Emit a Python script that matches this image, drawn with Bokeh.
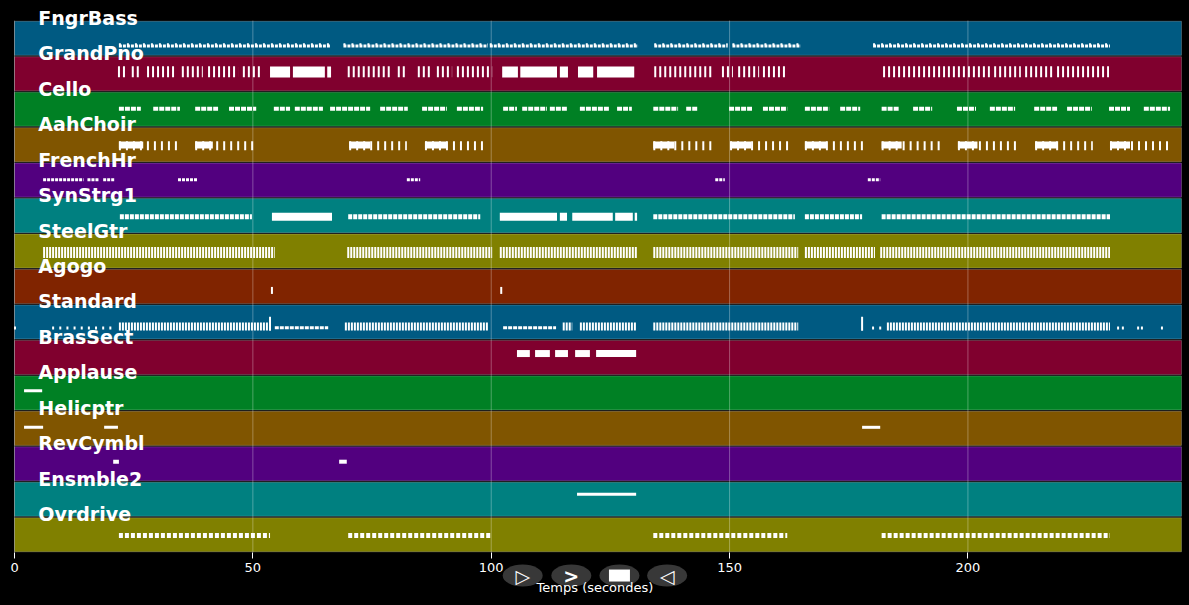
from bokeh.plotting import figure
from bokeh.models import ColumnDataSource, FixedTicker
from bokeh.core.properties import value
from bokeh.embed import file_html
from bokeh.resources import INLINE

# ---------------- data ----------------
tracks = ["FngrBass", "GrandPno", "Cello", "AahChoir", "FrenchHr", "SynStrg1",
          "SteelGtr", "Agogo", "Standard", "BrasSect", "Applause", "Helicptr",
          "RevCymbl", "Ensmble2", "Ovrdrive"]
x_ticks = [0, 50, 100, 150, 200]
x_label = "Temps (secondes)"
buttons = ["▷", ">", "", "◁"]

# note phrases, (start, end) in seconds
fngrbass = [(21.9, 66.3), (69.0, 99.3), (99.7, 130.8), (134.2, 149.6), (150.6, 164.9), (180.1, 229.8)]
grandpno_chords = [(21.7, 23.6), (24.6, 26.3), (27.8, 34.1), (35.1, 39.5), (40.6, 46.9), (47.9, 51.5),
                   (69.9, 78.8), (80.4, 81.9), (84.6, 87.2), (88.6, 91.8), (92.8, 100.2),
                   (134.2, 146.3), (148.4, 150.7), (151.8, 156.2), (157.0, 162.1),
                   (182.2, 195.2), (195.8, 204.6), (205.5, 211.1), (212.0, 217.8), (218.7, 229.6)]
grandpno_held = [(53.6, 57.8), (58.4, 65.1), (65.6, 66.4), (102.3, 105.6), (106.1, 113.8),
                 (114.4, 116.1), (118.2, 121.4), (122.2, 130.0)]
cello = [(21.9, 26.5), (29.1, 34.7), (37.9, 42.7), (45.0, 50.7), (54.4, 57.8), (58.8, 64.7),
         (66.2, 74.6), (76.7, 82.5), (85.5, 90.7), (92.8, 98.3), (102.5, 105.4), (106.5, 111.7),
         (112.3, 115.9), (118.6, 124.9), (126.4, 129.5), (134.0, 139.2), (140.9, 143.4),
         (149.9, 154.7), (157.0, 162.1), (165.8, 170.9), (173.2, 177.4), (181.9, 185.5),
         (188.5, 192.5), (197.7, 201.7), (204.6, 209.9), (213.9, 218.7), (220.8, 226.0),
         (229.6, 234.0), (236.9, 242.4)]
aahchoir = [(21.9, 34.3), (37.9, 50.5), (70.2, 82.3), (86.1, 98.5), (134.0, 146.5), (150.1, 162.7),
            (165.8, 178.4), (181.9, 194.6), (197.9, 210.5), (214.1, 226.2), (229.8, 242.4)]
aahchoir_held = [(21.9, 27.0), (37.9, 41.6), (70.2, 74.6), (86.1, 90.7), (134.0, 138.4), (150.1, 154.5),
                 (165.8, 170.4), (181.9, 186.1), (197.9, 202.0), (214.1, 218.7), (229.8, 234.0)]
frenchhr = [(6.0, 14.5), (15.3, 17.8), (18.6, 21.1), (34.3, 38.3), (82.3, 85.1), (147.0, 149.0), (179.0, 181.6)]
synstrg1 = [(22.1, 49.8), (70.0, 97.7), (134.0, 163.7), (165.8, 177.8), (181.9, 229.8)]
synstrg1_held = [(54.0, 66.6), (101.8, 113.8), (114.4, 115.9), (117.0, 125.5), (126.0, 129.7), (130.1, 130.6)]
steelgtr = [(6.0, 54.6), (69.8, 100.2), (101.8, 130.6), (134.0, 164.4), (165.8, 180.5), (181.6, 229.8)]
agogo_hits = [54.0, 102.1]
standard = [(21.9, 53.2), (69.3, 99.3), (115.0, 117.0), (118.6, 130.4), (134.0, 164.4), (183.0, 229.8)]
standard_light = [(54.6, 65.8), (102.5, 113.6)]
standard_hits = [53.6, 177.8]
standard_dots = [0.1, 8.1, 9.6, 11.1, 12.6, 14.1, 15.6, 17.1, 18.6, 20.1,
                 180.1, 181.6, 231.5, 232.5, 235.7, 236.5, 240.7]
brassect = [(105.4, 108.1), (109.2, 112.3), (113.4, 116.1), (117.6, 120.7), (122.0, 130.4)]
applause = [(2.0, 5.8)]
helicptr = [(2.0, 6.0), (18.8, 21.7), (177.8, 181.6)]
revcymbl = [(20.7, 21.9), (68.1, 69.7)]
ensmble2 = [(118.0, 130.4)]
ovrdrive = [(21.9, 53.6), (70.0, 100.2), (134.0, 162.1), (181.9, 229.8)]

# ---------------- style ----------------
palette = ["#005a82", "#80002e", "#008024", "#805500", "#52007f", "#008080", "#808000", "#802400"]
XMAX = 244.8                 # right end of the track bands
N = len(tracks)
X_RANGE = (-2.94, XMAX + 1.68)  # frame covers the whole canvas
Y_RANGE = (-1.495, N + 0.566)

p = figure(width=1189, height=605, output_backend="svg", toolbar_location=None,
           x_range=X_RANGE, y_range=Y_RANGE,
           min_border_left=0, min_border_right=0, min_border_top=0, min_border_bottom=0)
p.background_fill_color = "black"
p.border_fill_color = "black"
p.outline_line_color = None
p.yaxis.visible = False
p.ygrid.grid_line_color = None
p.xgrid.grid_line_color = None

# bands
bsrc = ColumnDataSource(dict(
    bottom=[N - 1 - i + 0.02 for i in range(N)],
    top=[N - i - 0.02 for i in range(N)],
    color=[palette[i % len(palette)] for i in range(N)],
))
p.quad(left=0, right=XMAX, bottom="bottom", top="top", fill_color="color",
       line_color="white", line_alpha=0.22, line_width=1, source=bsrc)


def seg(track, phrases, rel, width, dash="solid"):
    i = tracks.index(track)
    y = N - 1 - i + rel
    src = ColumnDataSource(dict(x0=[a for a, b in phrases], x1=[b for a, b in phrases],
                                y=[y] * len(phrases)))
    p.segment(x0="x0", y0="y", x1="x1", y1="y", source=src, line_color="white",
              line_width=width, line_dash=dash, line_cap="butt")


def marks(track, times, rel, w, h):
    i = tracks.index(track)
    y = N - 1 - i + rel
    p.rect(x=times, y=[y] * len(times), width=w, height=h, width_units="screen",
           height_units="screen", fill_color="white", line_color=None)


seg("FngrBass", fngrbass, 0.28, 3, "3 1")
seg("FngrBass", fngrbass, 0.33, 2, "2 6")
seg("GrandPno", grandpno_chords, 0.56, 11, "2 3")
seg("GrandPno", grandpno_held, 0.55, 11)
seg("Cello", cello, 0.51, 4, "5 1")
seg("AahChoir", aahchoir, 0.47, 9, "2 5")
seg("AahChoir", aahchoir_held, 0.49, 7)
seg("FrenchHr", frenchhr, 0.51, 3, "3 1")
seg("SynStrg1", synstrg1, 0.47, 5, "4 1")
seg("SynStrg1", synstrg1_held, 0.47, 8)
seg("SteelGtr", steelgtr, 0.46, 11, "2 1")
marks("Agogo", agogo_hits, 0.39, 2, 7)
seg("Standard", standard, 0.37, 8, "2 1")
seg("Standard", standard_light, 0.34, 3, "4 1")
marks("Standard", standard_hits, 0.45, 2, 14)
marks("Standard", standard_dots, 0.33, 2, 3)
seg("BrasSect", brassect, 0.61, 7)
seg("Applause", applause, 0.56, 3)
seg("Helicptr", helicptr, 0.53, 3)
seg("RevCymbl", revcymbl, 0.56, 4)
seg("Ensmble2", ensmble2, 0.64, 3)
seg("Ovrdrive", ovrdrive, 0.48, 5, "4 2")

# vertical grid lines at the ticks, over the bands only
p.segment(x0=x_ticks, y0=[0] * len(x_ticks), x1=x_ticks, y1=[N] * len(x_ticks),
          line_color="white", line_alpha=0.3, line_width=1)

# track labels
lsrc = ColumnDataSource(dict(x=[5.0] * N, y=[N - i + 0.08 for i in range(N)], t=tracks))
p.text(x="x", y="y", text="t", source=lsrc, text_color="white", text_font=value("DejaVu Sans"),
       text_font_style="bold", text_font_size="19px", text_baseline="alphabetic", text_align="left")

# x axis, drawn at the bottom of the bands
ax = p.xaxis[0]
ax.fixed_location = 0
ax.ticker = FixedTicker(ticks=x_ticks)
ax.axis_label = x_label
ax.axis_line_color = None
ax.major_tick_line_color = "white"
ax.major_tick_out = 6
ax.major_tick_in = 0
ax.minor_tick_line_color = None
ax.major_label_text_color = "white"
ax.major_label_text_font = "DejaVu Sans"
ax.major_label_text_font_size = "13px"
ax.axis_label_text_color = "white"
ax.axis_label_text_font = "DejaVu Sans"
ax.axis_label_text_font_style = "normal"
ax.axis_label_text_font_size = "13px"
ax.axis_label_standoff = 4

# player buttons
bxs = [106.6, 116.8, 126.9, 136.9]
BY = -0.65
p.ellipse(x=bxs, y=[BY] * 4, width=40, height=22, width_units="screen", height_units="screen",
          fill_color="#383838", line_color=None)
p.rect(x=[bxs[2]], y=[BY], width=21, height=12, width_units="screen", height_units="screen",
       fill_color="white", line_color=None)
p.text(x=bxs, y=[BY] * 4, text=buttons, text_color="white", text_font=value("DejaVu Sans"),
       text_font_style="bold", text_font_size="19px", text_align="center", text_baseline="middle")

html = file_html(p, INLINE)
html = html.replace("</head>", "<style>body{background:#000;}</style></head>", 1)
open("out.html", "w").write(html)
